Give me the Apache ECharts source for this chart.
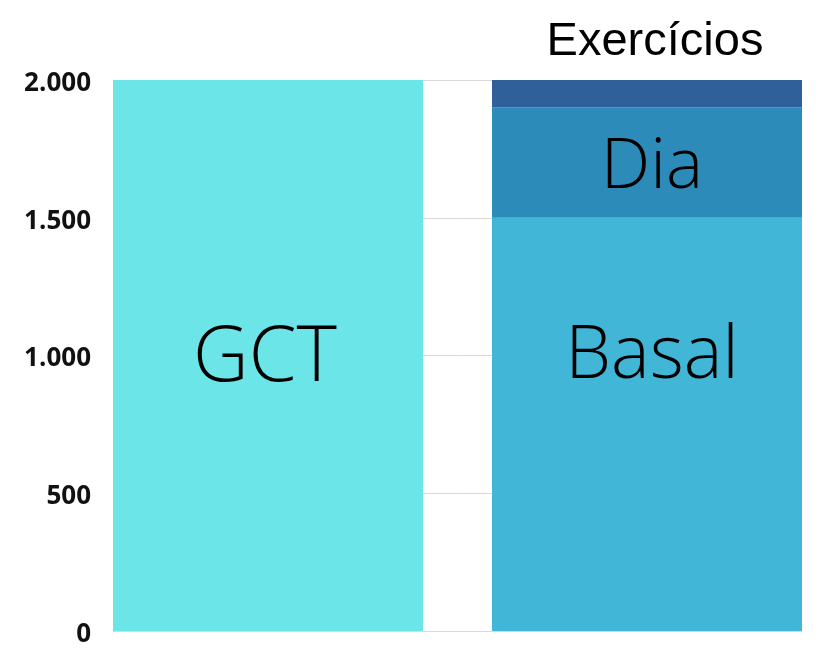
<!DOCTYPE html>
<html>
<head>
<meta charset="utf-8">
<script src="https://cdn.jsdelivr.net/npm/echarts@6/dist/echarts.min.js"></script>
<style>html,body{margin:0;padding:0;background:#fff}#c{width:824px;height:657px}</style>
</head>
<body>
<div id="c"></div>
<script>
const categories = ['Total'];
const gctValues = [2000];
const basalValues = [1500];
const diaValues = [400];
const exercicioValues = [100];
const seriesNames = ['GCT', 'Basal', 'Dia', 'Exercícios'];
const yMin = 0, yMax = 2000, yStep = 500;

const chart = echarts.init(document.getElementById('c'), null, {renderer: 'canvas'});
const inFont = {fontFamily: 'Open Sans', fontWeight: 300, color: '#000'};
const gapOpts = {barGap: '22.26%', barCategoryGap: '0%'};
chart.setOption({
  animation: false,
  backgroundColor: '#fff',
  grid: {left: 113, right: 22, top: 80, bottom: 26, containLabel: false},
  xAxis: {type: 'category', data: categories, show: false},
  yAxis: {
    type: 'value', min: yMin, max: yMax, interval: yStep,
    axisLine: {show: false}, axisTick: {show: false},
    splitLine: {lineStyle: {color: '#d9d9d9', width: 1}},
    axisLabel: {
      margin: 22, color: '#111',
      formatter: v => '{t|' + String(v).replace(/\B(?=(\d{3})+(?!\d))/g, '.') + '}',
      rich: {t: {fontFamily: 'Open Sans', fontWeight: 'bold', fontSize: 26, color: '#111', padding: [7, 0, 0, 0]}}
    }
  },
  series: [
    Object.assign({name: seriesNames[0], type: 'bar', data: gctValues,
      itemStyle: {color: '#6BE5E8'},
      label: Object.assign({show: true, position: 'inside', offset: [-3, 4], fontSize: 77, formatter: seriesNames[0]}, inFont)}, gapOpts),
    Object.assign({name: seriesNames[1], type: 'bar', stack: 'ex', data: basalValues,
      itemStyle: {color: '#41B6D6'},
      label: Object.assign({show: true, position: 'inside', offset: [5, -67], fontSize: 73, formatter: seriesNames[1]}, inFont)}, gapOpts),
    Object.assign({name: seriesNames[2], type: 'bar', stack: 'ex', data: diaValues,
      itemStyle: {color: '#2D8BBA'},
      label: Object.assign({show: true, position: 'inside', offset: [5, 5], fontSize: 70, formatter: seriesNames[2]}, inFont)}, gapOpts),
    Object.assign({name: seriesNames[3], type: 'bar', stack: 'ex', data: exercicioValues,
      itemStyle: {color: '#2F6099'},
      label: {show: true, position: 'top', distance: 14, offset: [8, 0], fontSize: 47,
        fontFamily: 'Liberation Sans', color: '#000', formatter: seriesNames[3]}}, gapOpts)
  ]
});
</script>
</body>
</html>
